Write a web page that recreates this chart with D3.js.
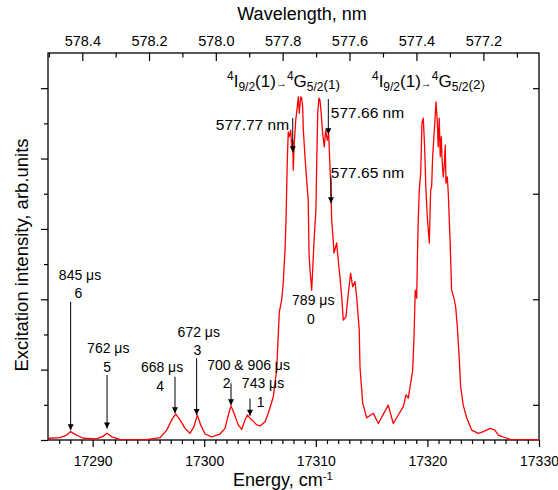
<!DOCTYPE html>
<html><head><meta charset="utf-8">
<script src="https://cdn.jsdelivr.net/npm/d3@7"></script>
<style>body{margin:0;background:#fff} text{font-family:"Liberation Sans",Arial,sans-serif;fill:#000}</style>
</head><body><svg id="c" width="558" height="490"></svg>
<script>
// ---- data ----
const energy=[17286.03,17287.08,17287.68,17288.03,17288.42,17289.16,17290.36,17290.96,17291.29,17291.71,
17292.45,17294.84,17296.04,17296.64,17297.08,17297.44,17297.83,17298.28,17298.72,17299.08,
17299.38,17299.68,17300.07,17300.67,17301.41,17301.86,17302.16,17302.40,17302.67,17303.05,
17303.36,17303.65,17303.86,17304.10,17304.34,17304.70,17305.00,17305.45,17305.74,17306.19,
17306.49,17306.73,17306.94,17307.08,17307.24,17307.33,17307.44,17307.53,17307.62,17307.75,
17307.84,17307.93,17307.98,17308.07,17308.20,17308.34,17308.43,17308.52,17308.64,17308.73,
17308.82,17308.88,17309.03,17309.18,17309.32,17309.39,17309.48,17309.63,17309.72,17309.86,
17310.01,17310.08,17310.17,17310.28,17310.37,17310.46,17310.61,17310.76,17310.88,17311.03,
17311.15,17311.27,17311.36,17311.42,17311.56,17311.63,17311.87,17312.01,17312.16,17312.32,
17312.46,17312.70,17312.91,17313.12,17313.30,17313.51,17313.66,17313.89,17313.96,17314.20,
17314.56,17315.15,17315.60,17316.49,17316.94,17317.39,17317.84,17318.08,17318.29,17318.50,
17318.68,17318.80,17318.91,17319.04,17319.13,17319.18,17319.27,17319.40,17319.51,17319.63,
17319.75,17319.87,17319.99,17320.17,17320.29,17320.38,17320.47,17320.59,17320.68,17320.77,
17320.88,17320.97,17321.06,17321.15,17321.24,17321.33,17321.42,17321.51,17321.60,17321.66,
17321.78,17321.87,17321.96,17322.02,17322.17,17322.38,17322.53,17322.68,17322.86,17322.98,
17323.21,17323.52,17323.97,17324.56,17325.01,17325.61,17326.05,17326.35,17327.10,17327.40,
17330.00];
const intensity=[0.05,0.065,0.14,0.24,0.16,0.05,0.03,0.11,0.19,0.09,
0.02,0.01,0.065,0.28,0.57,0.74,0.57,0.33,0.19,0.38,
0.71,0.43,0.17,0.09,0.17,0.33,0.71,0.97,0.76,0.43,
0.30,0.57,0.71,0.62,0.55,0.43,0.40,0.52,0.76,1.23,
1.99,3.64,3.98,4.46,5.40,6.25,7.87,8.76,8.62,8.81,
8.33,8.52,7.67,8.44,9.09,9.47,9.75,9.29,9.75,9.72,
9.47,8.81,8.05,7.39,6.82,5.31,4.83,4.26,4.83,5.78,
6.53,7.87,9.29,9.72,9.66,9.38,8.72,8.33,8.81,8.52,
8.72,7.76,7.10,6.25,5.68,5.31,5.60,5.11,4.64,4.07,
3.41,3.50,4.17,4.74,4.36,4.50,4.07,3.13,2.07,1.05,
0.63,0.76,0.47,0.99,0.47,0.71,0.95,1.28,1.19,1.62,
1.99,2.93,4.26,4.03,5.60,6.25,7.10,7.59,9.01,9.15,
8.33,7.10,6.34,5.60,7.10,7.20,8.05,8.66,9.09,9.61,
9.09,8.33,9.15,8.05,8.62,7.87,7.48,7.81,8.38,7.30,
7.48,7.02,6.25,5.78,4.26,4.03,3.79,3.22,2.27,1.51,
0.99,0.63,0.28,0.19,0.24,0.33,0.28,0.14,0.05,0.02,
0.01];
const energyTicks=[17290,17300,17310,17320,17330];
const wavelengthMajor=[578.4,578.2,578.0,577.8,577.6,577.4,577.2];
const wavelengthMinor=[578.5,578.3,578.1,577.9,577.7,577.5,577.3,577.1];
const yMajor=[0,2,4,6,8,10];
const yMinor=[1,3,5,7,9];
const yRight=[1,4,7,10];
// annotation arrows (energy, start intensity, tip intensity)
const arrowE=[17288.03,17291.29,17297.38,17299.32,17302.40,17304.10,17307.93,17311.12,17311.36];
const arrowTop=[3.93,1.85,1.80,2.32,1.61,1.18,9.15,9.69,7.48];
const arrowTip=[0.28,0.33,0.76,0.71,0.99,0.69,8.18,8.69,6.73];
// lifetime labels
const lifeText=["845 μs","6","762 μs","5","668 μs","4","672 μs","3","700 & 906 μs","2","743 μs","1","789 μs","0"];
const lifeE=[17288.87,17288.72,17291.40,17291.29,17296.22,17296.04,17299.51,17299.38,17303.97,17302.01,17305.27,17305.06,17309.77,17309.57];
const lifeV=[4.55,4.03,2.46,1.92,1.92,1.39,2.93,2.41,1.99,1.47,1.49,0.95,3.84,3.30];
const nmText=["577.77 nm","577.66 nm","577.65 nm"];
const nmE=[17304.32,17314.63,17314.63];
const nmV=[8.82,9.16,7.46];
const transE=[17302.04,17315.03];
const transV=[10.04,10.04];
const transUpper=["(1)","(2)"];

// ---- chart ----
const svg=d3.select("#c");
const L=48,R=539,T=53,B=440;
const x=d3.scaleLinear().domain([17286,17330]).range([L,R]);
const y=d3.scaleLinear().domain([0,11]).range([B,T]);

// frame
svg.append("rect").attr("x",L).attr("y",T).attr("width",R-L).attr("height",B-T)
  .attr("fill","none").attr("stroke","#000").attr("stroke-width",1.3);

function styleAxis(g){g.select(".domain").remove();g.selectAll("line").attr("stroke","#000").attr("stroke-width",1.2);g.selectAll("text").attr("font-family",'"Liberation Sans",Arial,sans-serif');}

// bottom axis
const minorE=d3.range(17287,17330).filter(d=>d%10!==0);
svg.append("g").attr("transform",`translate(0,${B})`)
  .call(d3.axisBottom(x).tickValues(minorE).tickSize(4).tickFormat("")).call(styleAxis);
svg.append("g").attr("transform",`translate(0,${B})`)
  .call(d3.axisBottom(x).tickValues(energyTicks).tickSize(7).tickPadding(9).tickFormat(d3.format("d")))
  .call(styleAxis).selectAll("text").attr("font-size",14);

// top axis (wavelength), ticks inward
svg.append("g").attr("transform",`translate(0,${T})`)
  .call(d3.axisTop(x).tickValues(wavelengthMinor.map(l=>1e7/l)).tickSize(-4.5).tickFormat("")).call(styleAxis);
svg.append("g").attr("transform",`translate(0,${T})`)
  .call(d3.axisTop(x).tickValues(wavelengthMajor.map(l=>1e7/l)).tickSize(-8).tickPadding(7).tickFormat(e=>(1e7/e).toFixed(1)))
  .call(styleAxis).selectAll("text").attr("font-size",14.5);

// left axis
svg.append("g").attr("transform",`translate(${L},0)`)
  .call(d3.axisLeft(y).tickValues(yMinor).tickSize(4).tickFormat("")).call(styleAxis);
svg.append("g").attr("transform",`translate(${L},0)`)
  .call(d3.axisLeft(y).tickValues(yMajor).tickSize(7).tickFormat("")).call(styleAxis);
// right axis
svg.append("g").attr("transform",`translate(${R},0)`)
  .call(d3.axisRight(y).tickValues(yRight).tickSize(-6).tickFormat("")).call(styleAxis);

// curve
const pts=d3.zip(energy,intensity);
svg.append("path").datum(pts)
  .attr("d",d3.line().x(d=>x(d[0])).y(d=>y(d[1])))
  .attr("fill","none").attr("stroke","#ff0000").attr("stroke-width",1.3).attr("stroke-linejoin","round");

// arrows
const defs=svg.append("defs");
defs.append("marker").attr("id","ah").attr("viewBox","0 0 10 10").attr("refX",10).attr("refY",5)
  .attr("markerWidth",9).attr("markerHeight",6).attr("markerUnits","userSpaceOnUse").attr("orient","auto")
  .append("path").attr("d","M0,0L10,5L0,10Z").attr("fill","#000");
arrowE.forEach((e,i)=>{
  svg.append("line").attr("x1",x(e)).attr("x2",x(e)).attr("y1",y(arrowTop[i])).attr("y2",y(arrowTip[i]))
    .attr("stroke","#000").attr("stroke-width",1).attr("marker-end","url(#ah)");
});

// lifetime labels
lifeText.forEach((t,i)=>{
  svg.append("text").attr("x",x(lifeE[i])).attr("y",y(lifeV[i])).attr("text-anchor","middle")
    .attr("font-size",14).text(t);
});
nmText.forEach((t,i)=>{
  svg.append("text").attr("x",x(nmE[i])).attr("y",y(nmV[i])).attr("text-anchor","middle")
    .attr("font-size",15.5).text(t);
});

// transition labels
transE.forEach((e,i)=>{
  const t=svg.append("text").attr("x",x(e)).attr("y",y(transV[i])).attr("font-size",17);
  t.append("tspan").attr("font-size",12).attr("dy",-7).text("4");
  t.append("tspan").attr("dy",7).text("I");
  t.append("tspan").attr("font-size",12).attr("dy",4).text("9/2");
  t.append("tspan").attr("dy",-4).text("(1)");
  t.append("tspan").attr("font-size",11).text("→");
  t.append("tspan").attr("font-size",12).attr("dy",-7).text("4");
  t.append("tspan").attr("dy",7).text("G");
  t.append("tspan").attr("font-size",12).attr("dy",4).text("5/2");
  t.append("tspan").attr("font-size",13.5).attr("dy",-2).text(transUpper[i]);
});

// axis titles
svg.append("text").attr("x",302).attr("y",20).attr("text-anchor","middle").attr("font-size",18).text("Wavelength, nm");
const et=svg.append("text").attr("x",233).attr("y",486).attr("font-size",18);
et.append("tspan").text("Energy, cm");
et.append("tspan").attr("font-size",11.5).attr("dy",-6).text("-1");
svg.append("text").attr("transform","translate(28,255) rotate(-90)").attr("text-anchor","middle")
  .attr("font-size",18.5).text("Excitation intensity, arb.units");
</script></body></html>
